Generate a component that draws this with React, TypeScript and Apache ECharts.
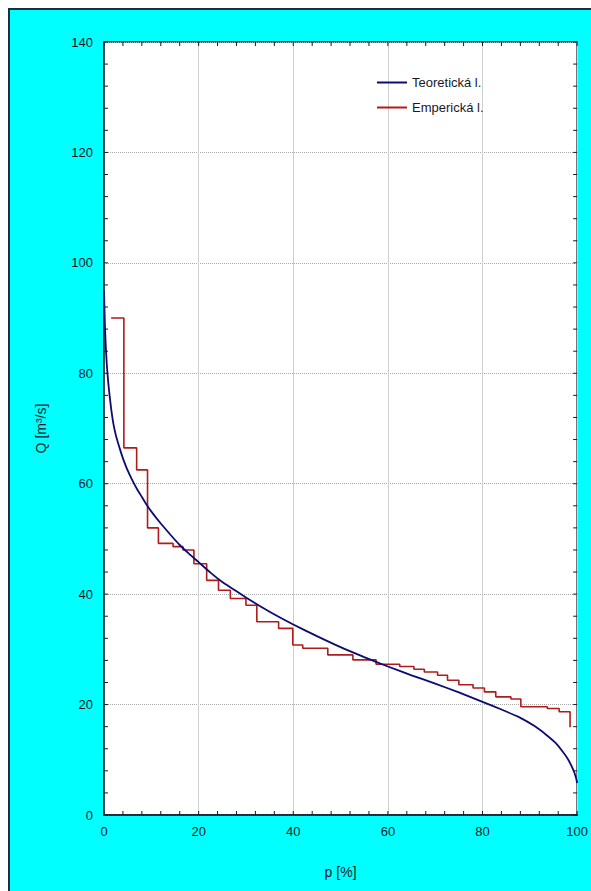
import React, { useEffect, useRef } from "react";
import * as echarts from "echarts";

const xTicks = [0, 20, 40, 60, 80, 100];
const yTicks = [0, 20, 40, 60, 80, 100, 120, 140];
const xMinorStep = 4;
const yMinorStep = 4;

const seriesNames = ["Teoretická l.", "Emperická l."];

// Theoretical curve (p [%], Q)
const theoP = [0, 0.2, 0.4, 0.6, 0.9, 1.2, 1.6, 2.0, 2.5, 3.0, 3.5, 4.0, 5.0, 6.0, 7.0, 8.0, 9.0, 10.5, 12, 14, 16, 18, 20, 22.5, 25, 27.5, 30, 35, 40, 45, 50, 55, 60, 65, 70, 75, 80, 84, 88, 91, 93.5, 95.5, 97, 98, 98.8, 99.4, 99.8, 100];
const theoQ = [95, 88.5, 84.5, 81.5, 78.3, 75.8, 73, 70.8, 68.8, 67.3, 65.9, 64.6, 62.4, 60.6, 59.0, 57.6, 56.2, 54.4, 52.8, 50.8, 48.9, 47.3, 45.8, 43.9, 42.2, 40.8, 39.4, 36.8, 34.5, 32.4, 30.4, 28.6, 26.9, 25.3, 23.8, 22.2, 20.5, 19.1, 17.6, 16.1, 14.5, 13.0, 11.4, 10.2, 8.9, 7.7, 6.6, 5.8];

// Empirical step curve (start of each step)
const empP = [1.5, 4.2, 6.9, 9.2, 11.5, 14.6, 16.7, 19.0, 21.7, 24.2, 26.7, 30.0, 32.3, 36.9, 39.9, 42.0, 47.3, 52.6, 57.5, 62.5, 65.5, 67.7, 70.5, 72.6, 75.0, 78.0, 80.4, 82.8, 86.0, 88.1, 93.7, 96.2, 98.5];
const empQ = [90, 66.5, 62.5, 52, 49.2, 48.6, 48, 45.5, 42.5, 40.7, 39.2, 38, 35, 33.8, 30.8, 30.2, 29.0, 28.1, 27.3, 26.9, 26.4, 25.9, 25.3, 24.4, 23.6, 23.0, 22.3, 21.4, 21.0, 19.6, 19.3, 18.7, 15.9];

const FONT = "'Liberation Sans Narrow', 'Liberation Sans', Arial, sans-serif";
const TXT = "#15192a";
const AX = "#15192a";

export default function App() {
  const ref = useRef<HTMLDivElement>(null);
  useEffect(() => {
    if (!ref.current) return;
    const chart = echarts.init(ref.current, undefined, { renderer: "svg" });
    const xMin = xTicks[0], xMax = xTicks[xTicks.length - 1];
    const yMin = yTicks[0], yMax = yTicks[yTicks.length - 1];
    const xMajor = xTicks[1] - xTicks[0];
    const yMajor = yTicks[1] - yTicks[0];
    const axisLineStyle = { color: AX, width: 1.5 };
    const noTick = { show: false };

    // tick marks (kind 0 = x axis, 1 = y axis), drawn inward via the axes' scales
    const tickItems: number[][] = [];
    for (let v = xMin; v <= xMax; v += xMinorStep) tickItems.push([0, v]);
    for (let v = yMin; v <= yMax; v += yMinorStep) tickItems.push([1, v]);
    const TL = 4;

    chart.setOption({
      animation: false,
      backgroundColor: "transparent",
      textStyle: { fontFamily: FONT },
      grid: {
        left: 94, right: 13, top: 32, bottom: 76,
        show: true, backgroundColor: "#ffffff", borderColor: AX, borderWidth: 1.5,
      },
      legend: {
        data: seriesNames,
        orient: "vertical",
        left: 362, top: 61,
        icon: "rect", itemWidth: 30, itemHeight: 2, itemGap: 12,
        textStyle: { fontFamily: FONT, fontSize: 13, color: TXT },
      },
      xAxis: [
        {
          type: "value", min: xMin, max: xMax, interval: xMajor, position: "bottom",
          name: "p [%]", nameLocation: "middle", nameGap: 50,
          nameTextStyle: { fontFamily: FONT, fontSize: 14, color: TXT },
          axisLine: { show: true, lineStyle: axisLineStyle },
          axisTick: noTick, minorTick: noTick,
          axisLabel: { fontFamily: FONT, fontSize: 13, color: TXT, margin: 10 },
          splitLine: { show: true, lineStyle: { color: "#cfcfcf", width: 1 } },
        },
      ],
      yAxis: [
        {
          type: "value", min: yMin, max: yMax, interval: yMajor, position: "left",
          name: "Q [m³/s]", nameLocation: "middle", nameGap: 56, nameRotate: 90,
          nameTextStyle: { fontFamily: FONT, fontSize: 14, color: TXT },
          axisLine: { show: true, lineStyle: axisLineStyle },
          axisTick: noTick, minorTick: noTick,
          axisLabel: { fontFamily: FONT, fontSize: 13, color: TXT, margin: 11 },
          splitLine: { show: true, lineStyle: { color: "#a8a8a8", type: "dotted", width: 1 } },
        },
      ],
      series: [
        {
          name: seriesNames[1],
          type: "line",
          step: "end",
          showSymbol: false,
          data: empP.map((p, i) => [p, empQ[i]]),
          lineStyle: { color: "#b01c1c", width: 1.6 },
          itemStyle: { color: "#b01c1c" },
        },
        {
          name: seriesNames[0],
          type: "line",
          smooth: 0.15,
          showSymbol: false,
          data: theoP.map((p, i) => [p, theoQ[i]]),
          lineStyle: { color: "#0c0c72", width: 1.8 },
          itemStyle: { color: "#0c0c72" },
        },
        {
          type: "custom",
          name: "ticks",
          silent: true,
          clip: false,
          data: tickItems,
          encode: { x: -1, y: -1 },
          renderItem: (params: any, api: any) => {
            const kind = api.value(0);
            const v = api.value(1);
            const style = { stroke: AX, lineWidth: 1 };
            if (kind === 0) {
              const b = api.coord([v, yMin]);
              const t = api.coord([v, yMax]);
              return {
                type: "group",
                children: [
                  { type: "line", shape: { x1: b[0], y1: b[1], x2: b[0], y2: b[1] - TL }, style },
                  { type: "line", shape: { x1: t[0], y1: t[1], x2: t[0], y2: t[1] + TL }, style },
                ],
              };
            }
            const l = api.coord([xMin, v]);
            const r = api.coord([xMax, v]);
            return {
              type: "group",
              children: [
                { type: "line", shape: { x1: l[0], y1: l[1], x2: l[0] + TL, y2: l[1] }, style },
                { type: "line", shape: { x1: r[0], y1: r[1], x2: r[0] - TL, y2: r[1] }, style },
              ],
            };
          },
        },
      ],
    });
    return () => chart.dispose();
  }, []);
  return (
    <div
      style={{
        position: "fixed", left: 8, top: 8, width: 583, height: 883,
        boxSizing: "border-box", background: "#00ffff",
        borderLeft: "2px solid #15303a", borderTop: "2px solid #15303a",
      }}
    >
      <div ref={ref} style={{ width: 581, height: 881 }} />
    </div>
  );
}
